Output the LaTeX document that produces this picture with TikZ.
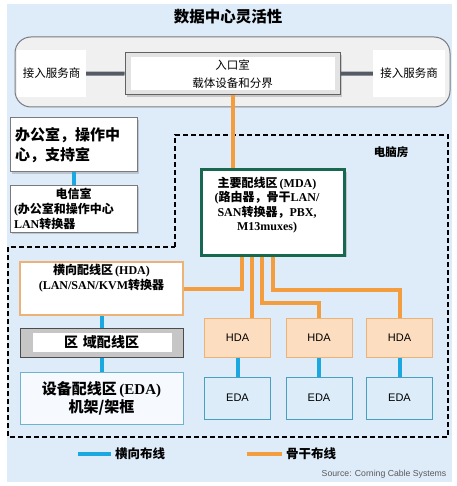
\documentclass[tikz,border=0pt]{standalone}
\usepackage{fontspec}
\setmainfont{Liberation Serif}
\setsansfont{Liberation Sans}
\newfontfamily\cjk{Noto Sans CJK SC}
\usetikzlibrary{shadows}
\definecolor{bgblue}{RGB}{222,236,250}
\definecolor{frame}{RGB}{120,122,128}
\definecolor{cable}{RGB}{85,90,100}
\definecolor{bbone}{RGB}{243,157,62}
\definecolor{hcab}{RGB}{27,168,224}
\definecolor{mdagreen}{RGB}{24,104,80}
\definecolor{peach}{RGB}{252,221,192}
\definecolor{peachline}{RGB}{236,178,120}
\definecolor{edafill}{RGB}{220,237,249}
\definecolor{edaline}{RGB}{72,160,192}
\newcommand{\zh}[1]{{\cjk #1}}

\begin{document}
\begin{tikzpicture}[x=1pt,y=-1pt]
\tikzstyle{every node}=[inner sep=0pt]
\tikzstyle{box}=[draw,rectangle,line width=1pt]
\tikzstyle{hline}=[hcab,line width=4pt]
\tikzstyle{oline}=[bbone,line width=4pt]
\tikzstyle{shade}=[drop shadow={opacity=0.35,shadow xshift=2pt,shadow yshift=-2pt}]
\tikzstyle{hsmall}=[box,draw=peachline,fill=peach,minimum width=66,minimum height=39,font=\sffamily\fontsize{11}{13}\selectfont]
\tikzstyle{esmall}=[box,draw=edaline,fill=edafill,minimum width=66,minimum height=42,font=\sffamily\fontsize{11}{13}\selectfont]
\useasboundingbox (0,0) rectangle (456,486);
\fill[bgblue] (7,4) rectangle (452,482);
\node[font=\cjk\bfseries\fontsize{15.5}{17}\selectfont] (t) at (228,17) {数据中心灵活性};
\node[box,draw=frame,fill=gray!12,rounded corners=16pt,minimum width=435,minimum height=70] (isp) at (232.5,72) {};
\node[fill=white,minimum width=69,minimum height=47,font=\cjk\fontsize{11.5}{13}\selectfont] (lp) at (51.5,73.5) {接入服务商};
\node[fill=white,minimum width=72,minimum height=47,font=\cjk\fontsize{11.5}{13}\selectfont] (rp) at (409,73.5) {接入服务商};
\node[box,draw=frame!80!black,fill=gray!22,shade,minimum width=215,minimum height=42,align=center,font=\cjk\fontsize{11.5}{18}\selectfont,
  path picture={\fill[white] ([xshift=6pt,yshift=-4pt]path picture bounding box.north west) rectangle ([xshift=-5pt,yshift=5pt]path picture bounding box.south east);}] (er) at (232.5,74) {入口室\\载体设备和分界};
\draw[cable,line width=4pt] (lp) -- (er);
\draw[cable,line width=4pt] (er) -- (rp);

\draw[line width=1.8pt,dash pattern=on 5pt off 3pt] (175,247) -- (175,135) -- (448,135) -- (448,437) -- (8,437) -- (8,247) -- cycle;
\node[font=\cjk\bfseries\fontsize{11.5}{13}\selectfont] (room) at (391,152) {电脑房};

\node[box,draw=frame,fill=white,shade,minimum width=127,minimum height=54,text width=117,align=left,font=\cjk\bfseries\fontsize{15}{20}\selectfont] (off) at (73.5,145) {办公室，操作中\\心，支持室};
\node[box,draw=frame,fill=white,shade,minimum width=127,minimum height=47,text width=119,align=left,font=\bfseries\fontsize{12}{15}\selectfont] (tel) at (73.5,208.5) {\makebox[119pt]{\zh{电信室}}\\(\zh{办公室和操作中心}\\LAN\zh{转换器}};
\draw[hline] (off) -- (tel);

\node[box,draw=mdagreen,line width=3pt,fill=white,shade,minimum width=143,minimum height=85,
  label={[anchor=north,yshift=-8pt,xshift=-6pt,align=center,font=\bfseries\fontsize{12}{14.5}\selectfont]north:{\zh{主要配线区}\,(MDA)\\(\zh{路由器，骨干}LAN/\\SAN\zh{转换器，}PBX,\\M13muxes)}}] (mda) at (273,212.5) {};
\draw[oline] (er.south) -- (er.south |- mda.north);

\node[box,draw=peachline,line width=1.5pt,fill=white,minimum width=163,minimum height=53,
  label={[anchor=north,yshift=-3pt,align=center,font=\bfseries\fontsize{12}{15}\selectfont]north:{\zh{横向配线区}\,(HDA)\\(LAN/SAN/KVM\zh{转换器}}}] (hda) at (101.5,288.5) {};
\node[box,draw=black!70,fill=gray!45,minimum width=163,minimum height=29,font=\cjk\bfseries\fontsize{14}{16}\selectfont,
  path picture={\fill[white] ([xshift=13pt,yshift=-5pt]path picture bounding box.north west) rectangle ([xshift=-11pt,yshift=5pt]path picture bounding box.south east);}] (zone) at (101.5,342.5) {区\hspace{5pt}域配线区};
\node[box,draw=edaline!80,fill=edafill!25,minimum width=163,minimum height=52,align=center,font=\bfseries\fontsize{15}{18}\selectfont] (eda) at (101.5,398) {\zh{设备配线区}\,(EDA)\\\zh{机架/架框}};
\draw[hline] (hda) -- (zone);
\draw[hline] (zone) -- (eda);

\foreach \i/\x in {1/237.5,2/319,3/399.5} {
  \node[hsmall] (h\i) at (\x,337.5) {HDA};
  \node[esmall] (e\i) at (\x,398) {EDA};
  \draw[hline] (h\i) -- (e\i);
}
\draw[oline] ([xshift=-31pt]mda.south) |- (hda.east);
\draw[oline] ([xshift=-21pt]mda.south) -- ([xshift=-21pt]mda.south |- h1.north);
\draw[oline] ([xshift=-11pt]mda.south) -- ++(0,46) -| (h2.north);
\draw[oline] (mda.south) -- ++(0,33) -| (h3.north);

\coordinate (lb) at (78,454);
\node[font=\cjk\bfseries\fontsize{12.5}{14}\selectfont] (lg1) at (140,454) {横向布线};
\draw[hline] (lb) -- ([xshift=-4pt]lg1.west);
\coordinate (lo) at (247,454);
\node[font=\cjk\bfseries\fontsize{12.5}{14}\selectfont] (lg2) at (311,454) {骨干布线};
\draw[oline] (lo) -- ([xshift=-4pt]lg2.west);
\node[font=\sffamily\fontsize{8.7}{10}\selectfont,text=gray!70!black] (src) at (384,474) {Source: Corning Cable Systems};
\end{tikzpicture}
\end{document}
